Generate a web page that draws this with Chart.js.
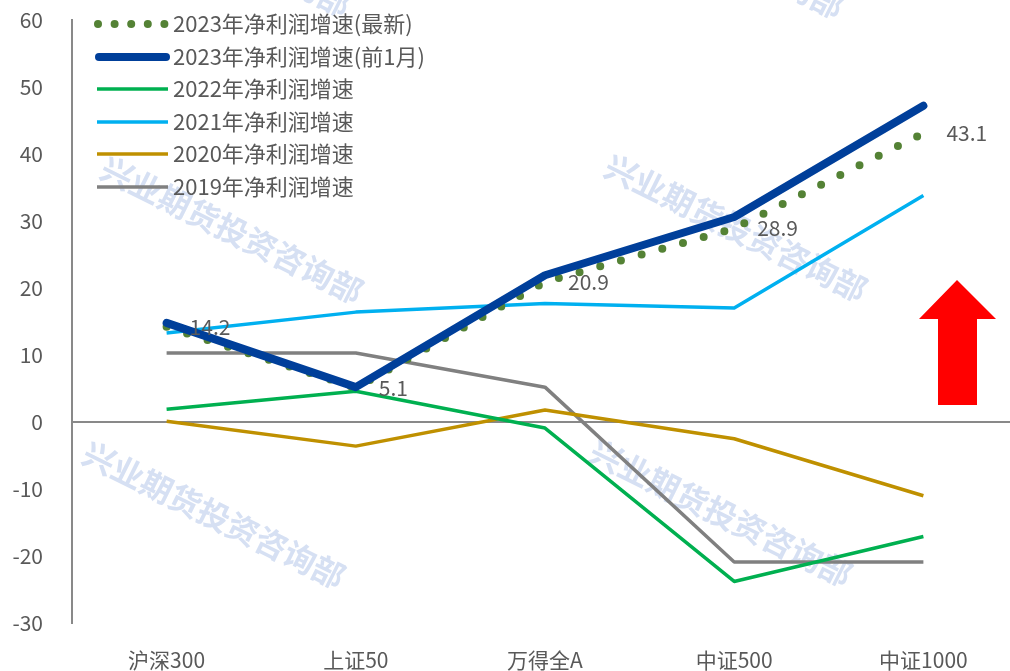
<!DOCTYPE html>
<html>
<head>
<meta charset="utf-8">
<script src="https://cdn.jsdelivr.net/npm/chart.js@4"></script>
<style>
html,body{margin:0;padding:0;background:#fff;overflow:hidden;}
#wrap{width:1018px;height:671px;}
</style>
</head>
<body>
<div id="wrap"><canvas id="c" width="1018" height="671"></canvas></div>
<script>
const categories = ['沪深300', '上证50', '万得全A', '中证500', '中证1000'];
const seriesNames = ['2023年净利润增速(最新)', '2023年净利润增速(前1月)', '2022年净利润增速', '2021年净利润增速', '2020年净利润增速', '2019年净利润增速'];
const growth2023Latest = [14.2, 5.1, 20.9, 28.9, 43.1];
const growth2023PrevMonth = [14.8, 5.2, 21.9, 30.6, 47.2];
const growth2022 = [1.9, 4.6, -0.9, -23.8, -17.1];
const growth2021 = [13.3, 16.4, 17.7, 17.0, 33.8];
const growth2020 = [0.1, -3.6, 1.8, -2.5, -11.0];
const growth2019 = [10.3, 10.3, 5.2, -20.9, -20.9];
const yMin = -30, yMax = 60, yStep = 10;
const watermarkText = '兴业期货投资咨询部';

const FONT = '"Noto Sans CJK SC", "Noto Sans", sans-serif';
const TEXT = '#595959';
const colors = ['#548235', '#003F9A', '#00B050', '#00B0F0', '#BF9000', '#808080'];

const watermarkPlugin = {
  id: 'wm',
  beforeDatasetsDraw(chart) {
    const ctx = chart.ctx;
    const centers = [[220, -57], [713, -55], [232, 230], [736, 228], [214, 515], [721, 513]];
    ctx.save();
    ctx.fillStyle = 'rgb(214,224,243)';
    ctx.font = 'bold 32px ' + FONT;
    ctx.textAlign = 'center';
    ctx.textBaseline = 'middle';
    centers.forEach(([x, y]) => {
      ctx.save();
      ctx.translate(x, y);
      ctx.rotate(26.5 * Math.PI / 180);
      ctx.fillText(watermarkText, 0, 0);
      ctx.restore();
    });
    ctx.restore();
  }
};

const overlayPlugin = {
  id: 'overlay',
  afterDatasetsDraw(chart) {
    const ctx = chart.ctx;
    const meta = chart.getDatasetMeta(0);
    ctx.save();
    ctx.font = '21px ' + FONT;
    ctx.fillStyle = TEXT;
    ctx.textAlign = 'left';
    ctx.textBaseline = 'middle';
    meta.data.forEach((pt, i) => {
      ctx.fillText(growth2023Latest[i].toFixed(1), pt.x + 23, pt.y);
    });
    ctx.restore();

    ctx.save();
    ctx.fillStyle = '#FF0000';
    ctx.beginPath();
    ctx.moveTo(957, 280);
    ctx.lineTo(996, 319);
    ctx.lineTo(977, 319);
    ctx.lineTo(977, 405);
    ctx.lineTo(938, 405);
    ctx.lineTo(938, 319);
    ctx.lineTo(919, 319);
    ctx.closePath();
    ctx.fill();
    ctx.restore();

    const rows = [24, 57, 89, 122, 154, 187];
    ctx.save();
    rows.forEach((y, i) => {
      if (i === 0) {
        ctx.fillStyle = colors[0];
        for (let k = 0; k < 5; k++) {
          ctx.beginPath();
          ctx.arc(98 + k * 16.6, y, 4, 0, Math.PI * 2);
          ctx.fill();
        }
      } else {
        ctx.strokeStyle = colors[i];
        ctx.lineWidth = i === 1 ? 8 : 3.5;
        ctx.lineCap = i === 1 ? 'round' : 'butt';
        ctx.beginPath();
        ctx.moveTo(i === 1 ? 99 : 97, y);
        ctx.lineTo(i === 1 ? 166 : 168, y);
        ctx.stroke();
      }
      ctx.fillStyle = TEXT;
      ctx.font = '22px ' + FONT;
      ctx.textAlign = 'left';
      ctx.textBaseline = 'middle';
      ctx.fillText(seriesNames[i], 173, y);
    });
    ctx.restore();
  }
};

const seriesData = [growth2023Latest, growth2023PrevMonth, growth2022, growth2021, growth2020, growth2019];
const datasets = seriesData.map((d, i) => {
  const base = {
    label: seriesNames[i],
    data: d,
    borderColor: colors[i],
    backgroundColor: colors[i],
    pointRadius: 0,
    tension: 0,
    fill: false,
    borderWidth: 3.5,
    borderJoinStyle: 'round',
    order: i === 1 ? 0 : (i === 0 ? 1 : i)
  };
  if (i === 0) {
    base.borderWidth = 8;
    base.borderDash = [0, 21.5];
    base.borderCapStyle = 'round';
  }
  if (i === 1) {
    base.borderWidth = 8;
    base.borderCapStyle = 'round';
  }
  return base;
});

new Chart(document.getElementById('c'), {
  type: 'line',
  data: { labels: categories, datasets },
  options: {
    responsive: false,
    animation: false,
    devicePixelRatio: 1,
    layout: { padding: { top: 20, right: 0, left: 0, bottom: 0 } },
    plugins: { legend: { display: false }, tooltip: { enabled: false } },
    scales: {
      x: {
        offset: true,
        grid: { display: false, drawTicks: false },
        border: { display: false },
        ticks: { color: TEXT, font: { size: 21, family: FONT }, padding: 24, maxRotation: 0 },
        afterFit(s) { s.height = 48; s.paddingLeft = 0; s.paddingRight = 0; }
      },
      y: {
        min: yMin, max: yMax,
        ticks: { stepSize: yStep, color: TEXT, font: { size: 21, family: FONT }, padding: 29 },
        grid: {
          drawTicks: false,
          color: c => (c.tick && c.tick.value === 0) ? '#898989' : 'rgba(0,0,0,0)',
          lineWidth: 2
        },
        border: { display: true, color: '#898989', width: 2 },
        afterFit(s) { s.width = 72; s.paddingTop = 0; s.paddingBottom = 0; }
      }
    }
  },
  plugins: [watermarkPlugin, overlayPlugin]
});
</script>
</body>
</html>
